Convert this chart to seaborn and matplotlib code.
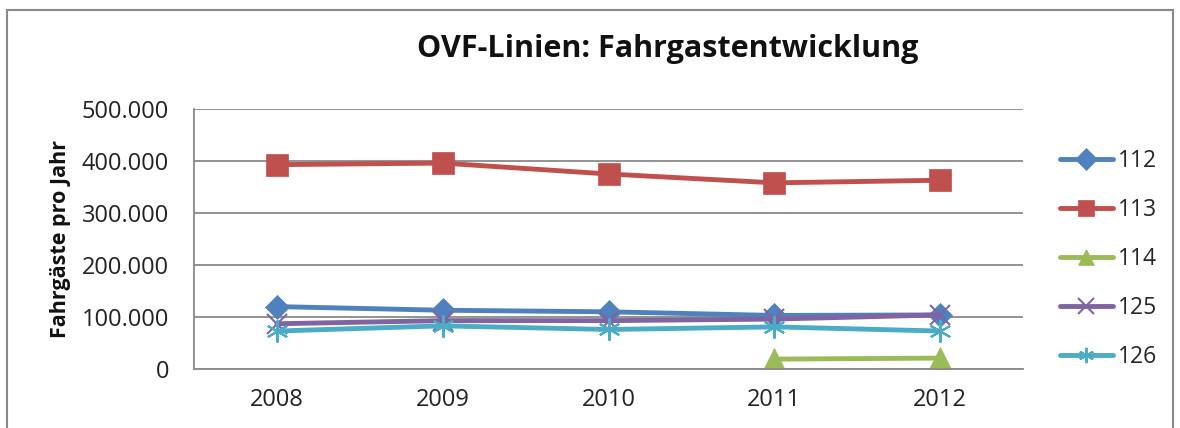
import matplotlib
matplotlib.use("Agg")
import matplotlib.pyplot as plt
import matplotlib.patches as mpatches
from matplotlib.ticker import FuncFormatter
import numpy as np
import pandas as pd
import seaborn as sns

years = [2008, 2009, 2010, 2011, 2012]
lines = ["112", "113", "114", "125", "126"]
v112 = [120000, 113000, 110000, 103000, 104000]
v113 = [393000, 396000, 375000, 358000, 363000]
v114 = [np.nan, np.nan, np.nan, 19000, 21000]
v125 = [87000, 93000, 93000, 96000, 104000]
v126 = [73000, 83000, 76000, 81000, 73000]
yticks = [0, 100000, 200000, 300000, 400000, 500000]

colors = {"112": "#4F81BD", "113": "#C0504D", "114": "#9BBB59",
          "125": "#8064A2", "126": "#4BACC6"}
markers = {"112": "D", "113": "s", "114": "^", "125": "x", "126": (6, 2, 0)}
msizes = {"112": 12, "113": 16, "114": 16, "125": 14, "126": 16}

df = pd.DataFrame({"Jahr": years * 5,
                   "Linie": sum([[l] * 5 for l in lines], []),
                   "Wert": v112 + v113 + v114 + v125 + v126})

sns.set_theme(style="white")
plt.rcParams['font.family'] = ['Open Sans', 'DejaVu Sans']

fig = plt.figure(figsize=(11.8, 4.28), dpi=100)
ax = fig.add_axes([194/1180, 1-369/428, (1023-194)/1180, (369-109)/428])

for l in lines:
    sub = df[df["Linie"] == l].dropna()
    mk = markers[l]
    sns.lineplot(data=sub, x="Jahr", y="Wert", ax=ax, color=colors[l],
                 linewidth=3.5, marker=mk, markersize=msizes[l],
                 markeredgecolor=colors[l],
                 markeredgewidth=1.5 if l in ("125", "126") else 0.5,
                 label=l)

ax.set_xlim(2007.5, 2012.5)
ax.set_ylim(0, 500000)
ax.set_xticks(years)
ax.set_xticklabels([str(y) for y in years])
ax.set_yticks(yticks)
ax.yaxis.set_major_formatter(FuncFormatter(lambda v, p: "0" if v == 0 else f"{int(v):,}".replace(",", ".")))
ax.tick_params(axis="both", labelsize=17, colors="#222222", length=0)
ax.tick_params(axis="y", pad=18)
ax.tick_params(axis="x", pad=14)
ax.grid(axis="y", color="#8a8a8a", linewidth=1.3)
ax.set_axisbelow(True)
for s in ["top", "right"]:
    ax.spines[s].set_visible(False)
for s in ["left", "bottom"]:
    ax.spines[s].set_color("#8a8a8a")
    ax.spines[s].set_linewidth(1.3)
ax.set_xlabel("")
ax.set_ylabel("Fahrgäste pro Jahr", fontsize=15.5, fontweight="bold", color="#111111", labelpad=8)

leg = ax.legend(loc="center left", frameon=False,
                borderaxespad=0, fontsize=16.5, handlelength=2.35, labelspacing=1.1,
                handletextpad=0.2)
leg.set_bbox_to_anchor((1.033, 0.423), transform=ax.transAxes)
for h in leg.legend_handles:
    h.set_markersize(11)

fig.text(668/1180, 1-49/428, "OVF-Linien: Fahrgastentwicklung", ha="center", va="center",
         fontsize=22, fontweight="bold", color="#111111")

rect = mpatches.Rectangle((7/1180, -0.05), (1173-7)/1180, 1-10/428+0.05,
                          transform=fig.transFigure, fill=False,
                          edgecolor="#8a8a8a", linewidth=1.5)
fig.patches.append(rect)

fig.savefig("out.png", dpi=100)
